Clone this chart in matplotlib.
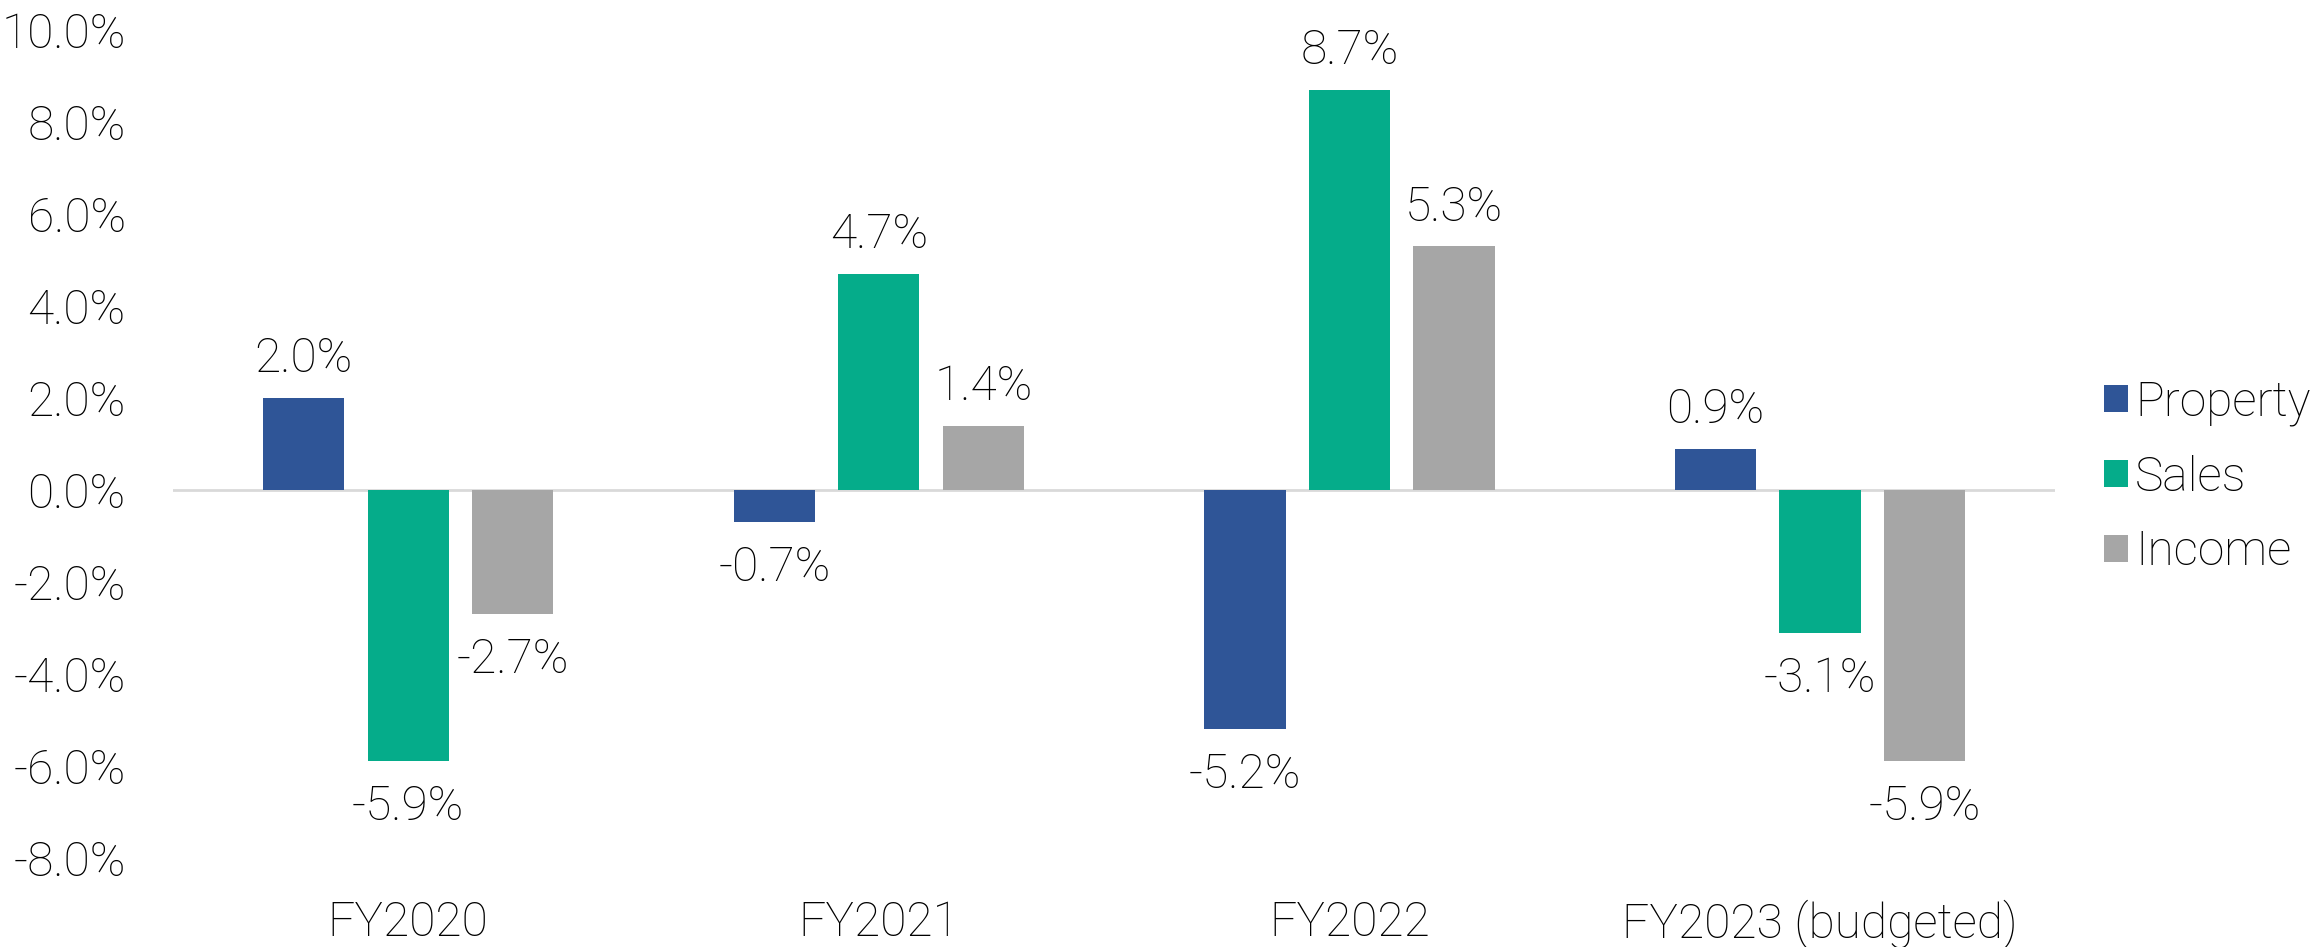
import matplotlib
matplotlib.use("Agg")
import matplotlib.pyplot as plt
import numpy as np

categories = ["FY2020", "FY2021", "FY2022", "FY2023 (budgeted)"]
series_names = ["Property", "Sales", "Income"]
property_vals = [2.0, -0.7, -5.2, 0.9]
sales_vals = [-5.9, 4.7, 8.7, -3.1]
income_vals = [-2.7, 1.4, 5.3, -5.9]
colors = ["#2F5597", "#05AC8A", "#A6A6A6"]
yticks = [-8, -6, -4, -2, 0, 2, 4, 6, 8, 10]

plt.rcParams['font.family'] = ['Roboto', 'DejaVu Sans']
FS = 34.5
W = 'light'
TC = '#000000'

fig = plt.figure(figsize=(23.21, 9.47), dpi=100)
ax = fig.add_axes([0.0745, 0.094, 0.811, 0.874])

x = np.arange(len(categories))
width = 0.173
step = 0.222
series = [property_vals, sales_vals, income_vals]
for i, (vals, name, c) in enumerate(zip(series, series_names, colors)):
    xs = x + (i - 1) * step
    ax.bar(xs, vals, width=width, color=c, label=name, zorder=2)
    for xi, v in zip(xs, vals):
        off = 28 if v >= 0 else -33
        ax.annotate(f"{v:.1f}%", (xi, v), xytext=(0, off), textcoords='offset points',
                    ha='center', va='center', fontsize=FS, fontweight=W, color=TC)

ax.axhline(0, color='#D9D9D9', lw=2, zorder=1)
ax.set_xlim(-0.5, len(categories) - 0.5)
ax.set_ylim(-8, 10)
ax.set_yticks(yticks)
ax.set_yticklabels([f"{t:.1f}%" for t in yticks], fontsize=FS, fontweight=W, color=TC)
ax.set_xticks(x)
ax.set_xticklabels(categories, fontsize=FS, fontweight=W, color=TC)
ax.tick_params(axis='y', length=0, pad=34)
ax.tick_params(axis='x', length=0, pad=30)
for s in ax.spines.values():
    s.set_visible(False)

leg = ax.legend(loc='center left', bbox_to_anchor=(1.008, 0.46),
                frameon=False, prop={'family': ['Roboto', 'DejaVu Sans'], 'weight': W, 'size': FS},
                handlelength=0.5, handleheight=0.5, handletextpad=0.15, labelspacing=0.6,
                borderpad=0.2)
for t in leg.get_texts():
    t.set_color(TC)

fig.savefig("out.png", dpi=100)
